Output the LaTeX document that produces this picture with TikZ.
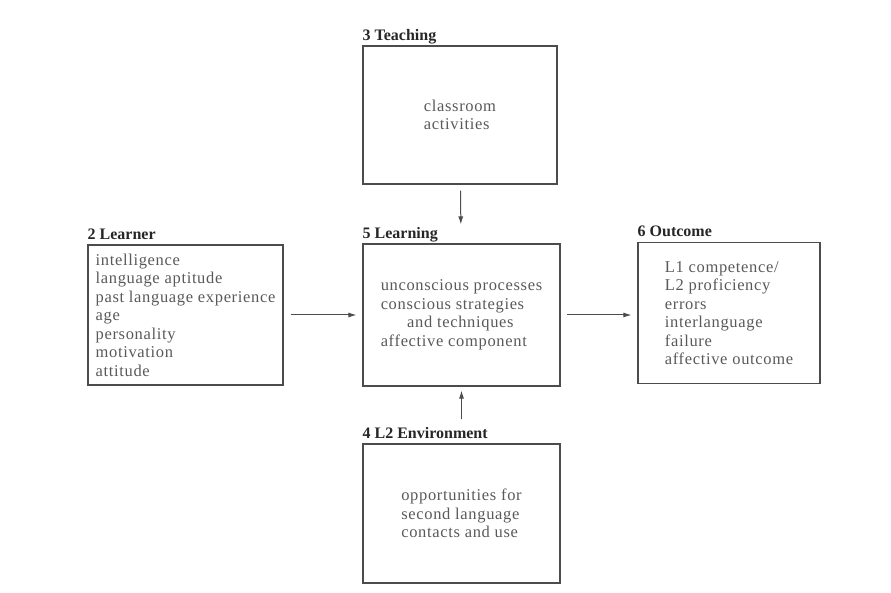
\documentclass[tikz,border=0pt]{standalone}
\usepackage{fontspec}
\setmainfont{Liberation Serif}
\usetikzlibrary{arrows.meta}
\tikzset{every picture/.style={x=1pt,y=-1pt},
  box/.style={draw=black!70,line width=1.1pt,text=black!65,align=left,
    font=\fontsize{16.5}{18.5}\selectfont\addfontfeatures{LetterSpace=4}},
  title/.style={anchor=base west,inner sep=0pt,text=black!85,
    font=\bfseries\fontsize{16}{18}\selectfont},
  link/.style={draw=black!70,line width=1pt,-{Latex[length=8pt,width=5pt]}}}

\begin{document}
\begin{tikzpicture}

          \useasboundingbox (0,0) rectangle (891,593);

          % boxes
          \node[box,minimum width=194,minimum height=138] (teach) at (460,115)
            {classroom\\activities};
          \node[box,minimum width=195,minimum height=140] (learner) at (185.5,315)
            {intelligence\\language aptitude\\past language experience\\age\\personality\\motivation\\attitude};
          \node[box,minimum width=197,minimum height=142] (learn) at (461.5,315)
            {unconscious processes\\conscious strategies\\\hspace{1.6em}and techniques\\affective component};
          \node[box,minimum width=182,minimum height=141] (outcome) at (729,313)
            {L1 competence/\\L2 proficiency\\errors\\interlanguage\\failure\\affective outcome};
          \node[box,minimum width=197,minimum height=139] (env) at (461.5,513.5)
            {opportunities for\\second language\\contacts and use};

          % titles
          \node[title] (teachT) at ([yshift=5pt]teach.north west) {3 Teaching};
          \node[title] (learnerT) at ([yshift=5pt]learner.north west) {2 Learner};
          \node[title] (learnT) at ([yshift=5pt]learn.north west) {5 Learning};
          \node[title] (outcomeT) at ([yshift=5pt]outcome.north west) {6 Outcome};
          \node[title] (envT) at ([yshift=5pt]env.north west) {4 L2 Environment};

          % arrows
          \draw[link,shorten <=6pt,shorten >=19pt](teach)--(learn);
          \draw[link,shorten <=7pt,shorten >=6pt](learner)--(learn);
          \draw[link,shorten <=6pt,shorten >=6pt](learn.east)--(learn.east -| outcome.west);
          \draw[link,shorten <=24pt,shorten >=4pt](env)--(learn);

        \end{tikzpicture}
\end{document}
